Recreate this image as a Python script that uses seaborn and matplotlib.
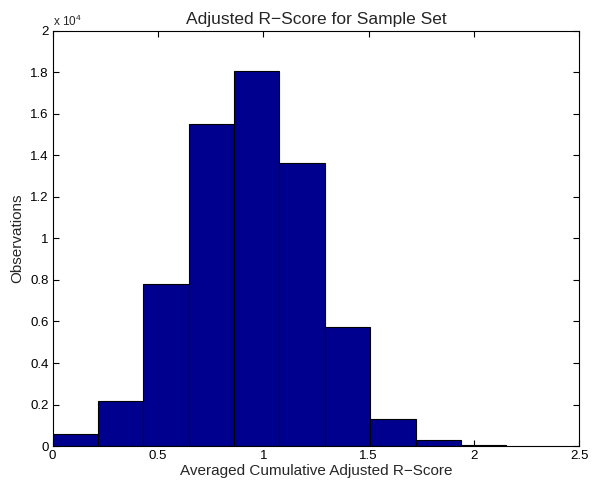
import numpy as np
import matplotlib
matplotlib.use("Agg")
import matplotlib.pyplot as plt
import seaborn as sns

# Histogram bins (10 equal-width bins) and observation counts per bin
bin_edges = [0.0, 0.2153, 0.4306, 0.6459, 0.8612, 1.0765, 1.2918, 1.5071, 1.7224, 1.9377, 2.153]
counts = [600, 2180, 7800, 15500, 18080, 13660, 5730, 1290, 300, 60]

x_ticks = [0, 0.5, 1, 1.5, 2, 2.5]
y_ticks = [0, 2000, 4000, 6000, 8000, 10000, 12000, 14000, 16000, 18000, 20000]
y_tick_labels = ["0", "0.2", "0.4", "0.6", "0.8", "1", "1.2", "1.4", "1.6", "1.8", "2"]

title = "Adjusted R\u2212Score for Sample Set"
x_label = "Averaged Cumulative Adjusted R\u2212Score"
y_label = "Observations"

sns.set_theme(style="white")
plt.rcParams["font.family"] = ["Liberation Sans", "DejaVu Sans"]
plt.rcParams["mathtext.default"] = "regular"

fig = plt.figure(figsize=(5.96, 4.84), dpi=100)
ax = fig.add_axes([0.0884, 0.0785, 0.9836 - 0.0884 - 0.0116, 0.936 - 0.0785])

centers = [(a + b) / 2 for a, b in zip(bin_edges[:-1], bin_edges[1:])]
sns.histplot(x=centers, weights=counts, bins=bin_edges, ax=ax,
             color="#00008F", alpha=1.0, edgecolor="black", linewidth=0.8)

ax.set_xlim(0, 2.5)
ax.set_ylim(0, 20000)
ax.set_xticks(x_ticks)
ax.set_xticklabels(["0", "0.5", "1", "1.5", "2", "2.5"])
ax.set_yticks(y_ticks)
ax.set_yticklabels(y_tick_labels)

ax.tick_params(direction="in", length=4, width=0.8, colors="black",
               labelsize=9.5, top=True, right=True, bottom=True, left=True,
               pad=3)
for side in ["left", "right", "top", "bottom"]:
    ax.spines[side].set_visible(True)
    ax.spines[side].set_color("black")
    ax.spines[side].set_linewidth(0.8)

ax.set_title(title, fontsize=12.5, pad=5)
ax.set_xlabel(x_label, fontsize=11, labelpad=1)
ax.set_ylabel(y_label, fontsize=11, labelpad=4)

ax.text(0.0, 1.005, r"x 10$^{4}$", transform=ax.transAxes, fontsize=8.5,
        ha="left", va="bottom")

fig.savefig("out.png", dpi=100, facecolor="white")
